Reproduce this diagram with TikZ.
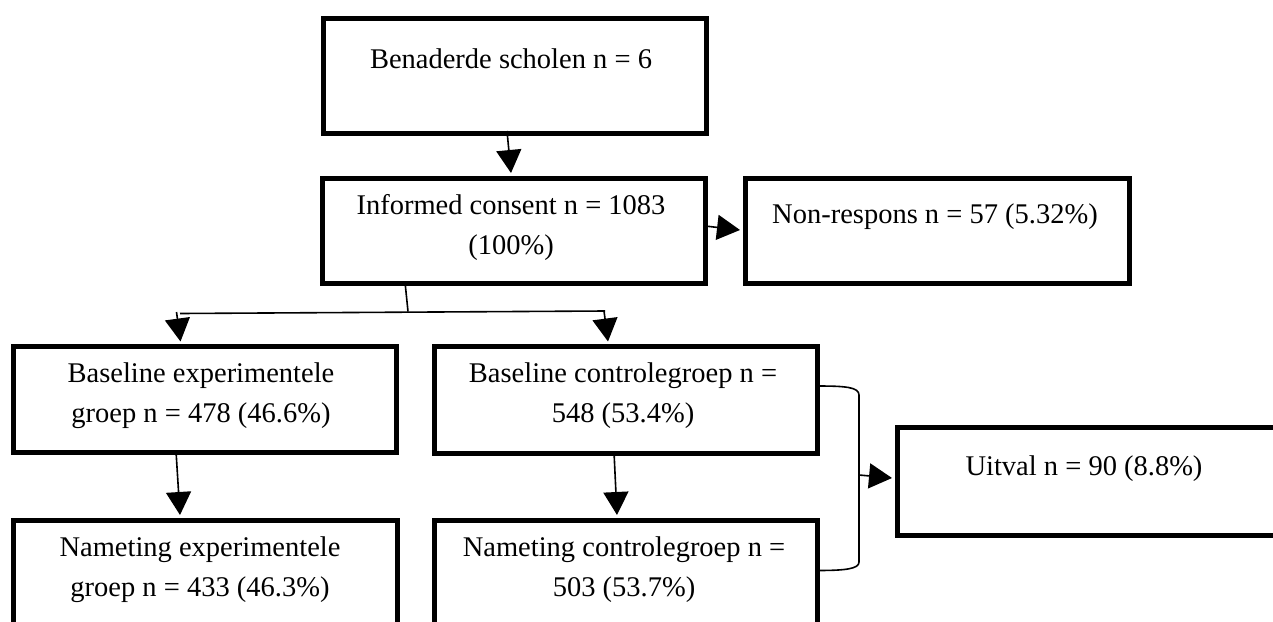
\documentclass[tikz,border=0pt]{standalone}
\usepackage{fontspec}
\setmainfont{Liberation Serif}
\usetikzlibrary{arrows.meta}
\begin{document}
\begin{tikzpicture}[x=1pt,y=-1pt,
  box/.style={draw=black, line width=5pt, inner sep=0pt, anchor=north west},
  txt/.style={anchor=base, inner sep=0pt, font=\fontsize{28.5}{40}\selectfont},
  conn/.style={line width=1.6pt, draw=black},
  arr/.style={conn, -{Triangle[length=23pt,width=25pt]}}]
\useasboundingbox (0,0) rectangle (1273,621);
\fill[white] (0,0) rectangle (1273,621);
\clip (0,0) rectangle (1273,621);
% boxes
\node[box, minimum width=383.5pt, minimum height=115pt] (b1) at (320.5,15.5) {};
\node[box, minimum width=383pt, minimum height=105.5pt] (b2) at (320,175.5) {};
\node[box, minimum width=384.5pt, minimum height=105.5pt] (b3) at (742.5,175.5) {};
\node[box, minimum width=383.5pt, minimum height=105.5pt] (b4) at (10.5,344) {};
\node[box, minimum width=383.5pt, minimum height=106.5pt] (b5) at (431.5,344) {};
\node[box, minimum width=384.5pt, minimum height=108pt] (b6) at (894.5,424.5) {};
\node[box, minimum width=384pt, minimum height=150pt] (b7) at (10.5,517.5) {};
\node[box, minimum width=383pt, minimum height=150pt] (b8) at (432,517.5) {};
% texts
\node[txt] (t1) at (511,68) {Benaderde scholen n = 6};
\node[txt] (t2a) at (511,214) {Informed consent n = 1083};
\node[txt] (t2b) at (511,254) {(100\%)};
\node[txt] (t3) at (935,223) {Non-respons n = 57 (5.32\%)};
\node[txt] (t4a) at (201,382) {Baseline experimentele};
\node[txt] (t4b) at (201,422) {groep n = 478 (46.6\%)};
\node[txt] (t5a) at (623,382) {Baseline controlegroep n =};
\node[txt] (t5b) at (623,422) {548 (53.4\%)};
\node[txt] (t6) at (1084,475) {Uitval n = 90 (8.8\%)};
\node[txt] (t7a) at (200,556) {Nameting experimentele};
\node[txt] (t7b) at (200,596) {groep n = 433 (46.3\%)};
\node[txt] (t8a) at (624,556) {Nameting controlegroep n =};
\node[txt] (t8b) at (624,596) {503 (53.7\%)};
% connector points
\coordinate (p1s) at (507,131);
\coordinate (p1e) at (511,173);
\coordinate (p2s) at (705,226);
\coordinate (p2e) at (740,230);
\coordinate (p3s) at (405,282);
\coordinate (p3m) at (408,311.5);
\coordinate (p3l) at (180,313.5);
\coordinate (p3r) at (605,311);
\coordinate (p4s) at (176.5,312);
\coordinate (p4e) at (180.5,341.5);
\coordinate (p5s) at (604,311);
\coordinate (p5e) at (608,341.5);
\coordinate (p6s) at (176,451);
\coordinate (p6e) at (180,515);
\coordinate (p7s) at (614,452);
\coordinate (p7e) at (617,515);
\coordinate (q1) at (817,386);
\coordinate (q2) at (859,395);
\coordinate (q3) at (859,562);
\coordinate (q4) at (817,570.5);
\coordinate (p8s) at (859,475);
\coordinate (p8e) at (892,478);
% connectors
\draw[arr] (p1s) -- (p1e);
\draw[arr] (p2s) -- (p2e);
\draw[conn] (p3s) -- (p3m);
\draw[conn] (p3l) -- (p3r);
\draw[arr] (p4s) -- (p4e);
\draw[arr] (p5s) -- (p5e);
\draw[arr] (p6s) -- (p6e);
\draw[arr] (p7s) -- (p7e);
\draw[conn] (q1) .. controls (845,386) and (859,387) .. (q2) -- (q3) .. controls (859,569) and (845,570.5) .. (q4);
\draw[arr] (p8s) -- (p8e);
\end{tikzpicture}
\end{document}
